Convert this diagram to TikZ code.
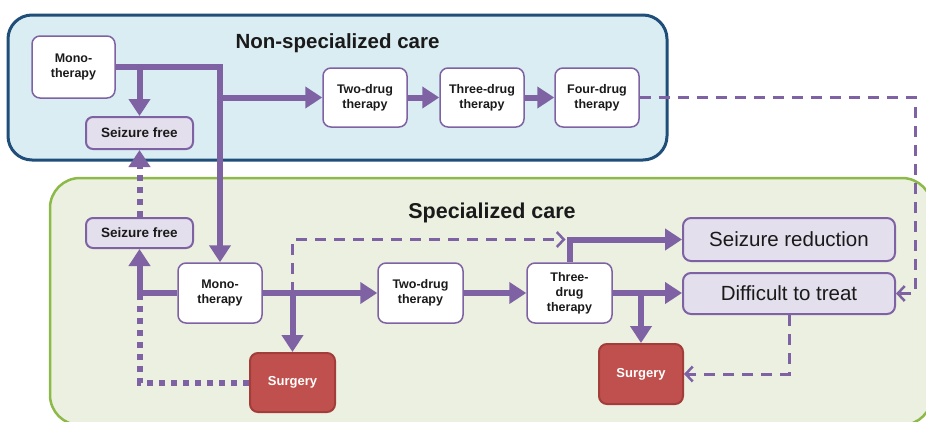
\documentclass[tikz,border=0pt]{standalone}
\usepackage{fontspec}
\setmainfont{Liberation Sans}
\usetikzlibrary{arrows.meta}
\definecolor{pur}{HTML}{7F62A4}
\definecolor{lav}{HTML}{E4DFEC}
\definecolor{bfill}{HTML}{DAEDF3}
\definecolor{bdraw}{HTML}{1F4E79}
\definecolor{gfill}{HTML}{EBF0E0}
\definecolor{gdraw}{HTML}{8DB948}
\definecolor{sred}{HTML}{C0504D}
\definecolor{sredd}{HTML}{A33D3A}
\definecolor{txt}{HTML}{1A1A1A}
\tikzset{
  wbox/.style={draw=pur, fill=white, line width=1.5pt, rounded corners=8pt, align=center,
    inner sep=0pt, text=txt, font=\fontsize{12.5}{15}\selectfont\bfseries},
  lbox/.style={draw=pur, fill=lav, line width=2pt, rounded corners=7pt, align=center,
    inner sep=0pt, text=txt, font=\fontsize{13.5}{16}\selectfont\bfseries},
  bigbox/.style={draw=pur, fill=lav, line width=2pt, rounded corners=8pt, align=center,
    inner sep=0pt, text=txt, font=\fontsize{20.5}{24}\selectfont},
  sbox/.style={draw=sredd, fill=sred, line width=2pt, rounded corners=8pt, align=center,
    inner sep=0pt, text=white, font=\fontsize{13}{15}\selectfont\bfseries},
  title/.style={anchor=base, text=txt, font=\fontsize{20.5}{24}\selectfont\bfseries},
  arr/.style={draw=pur, line width=6pt, -{Triangle[width=21pt,length=17pt]}},
  pline/.style={draw=pur, line width=6pt},
  dotl/.style={draw=pur, line width=6pt, dash pattern=on 6pt off 6pt},
  dotarr/.style={dotl, -{Triangle[width=21pt,length=17pt]}},
  dsh/.style={draw=pur, line width=3pt, dash pattern=on 11pt off 8pt},
  dsharr/.style={dsh, -{Straight Barb[length=7pt,width=15pt,line width=2.5pt]}},
}
\begin{document}
\begin{tikzpicture}[x=1pt,y=-1pt]
\useasboundingbox (0,0) rectangle (926,421);
\fill[white] (0,0) rectangle (926,421);
\begin{scope}
\clip (0,0) rectangle (926,421);
\draw[fill=bfill, draw=bdraw, line width=3pt, rounded corners=24pt] (8,15) rectangle (667,160);
\draw[fill=gfill, draw=gdraw, line width=2.5pt, rounded corners=30pt] (50,178) rectangle (932,425);
\end{scope}

\node[title] (t1) at (337.5,48) {Non-specialized care};
\node[title, font=\fontsize{21.5}{24}\selectfont\bfseries] (t2) at (492,218) {Specialized care};

% top row
\node[wbox, minimum width=83pt, minimum height=62pt] (mono1) at (73.5,67) {Mono-\\therapy};
\node[lbox, minimum width=107pt, minimum height=32pt] (sf1) at (139.5,133) {Seizure free};
\node[wbox, minimum width=84pt, minimum height=59pt] (two1) at (365,97.5) {Two-drug\\therapy};
\node[wbox, minimum width=84pt, minimum height=59pt] (three1) at (482,97.5) {Three-drug\\therapy};
\node[wbox, minimum width=84pt, minimum height=59pt] (four1) at (597,97.5) {Four-drug\\therapy};

% bottom
\node[lbox, minimum width=107pt, minimum height=30pt] (sf2) at (139.5,233) {Seizure free};
\node[wbox, minimum width=84pt, minimum height=60pt] (mono2) at (220,293) {Mono-\\therapy};
\node[sbox, minimum width=85pt, minimum height=59pt] (surg1) at (292.5,382.5) {Surgery};
\node[wbox, minimum width=85pt, minimum height=60pt] (two2) at (420.5,293) {Two-drug\\therapy};
\node[wbox, minimum width=85pt, minimum height=60pt] (three2) at (569.5,293) {Three-\\drug\\therapy};
\node[sbox, minimum width=84pt, minimum height=60pt] (surg2) at (641,374) {Surgery};
\node[bigbox, minimum width=212pt, minimum height=43pt] (sr) at (789,239.5) {Seizure reduction};
\node[bigbox, minimum width=212pt, minimum height=41pt] (dt) at (789,293.5) {Difficult to treat};

\coordinate (rc) at (915,0);

% top connectors
\draw[arr] (mono1.east) -| (mono2.north);
\draw[arr] (mono1.east -| sf1.north) -- (sf1.north);
\draw[arr] (two1.west -| mono2.north) -- (two1.west);
\draw[arr] (two1.east) -- (three1.west);
\draw[arr] (three1.east) -- (four1.west);
\draw[dsharr] (four1.east) -- (four1.east -| rc) |- (dt.east);

% bottom connectors
\draw[dotarr] (sf2.north) -- (sf1.south);
\draw[dotl] (surg1.west) -| (sf2.south |- mono2.west);
\draw[arr] (mono2.west) -| (sf2.south);
\draw[dsharr, shorten >=4pt] (mono2.east -| surg1.north) -- (surg1.north |- sr.west) -- (three2.north |- sr.west);
\draw[arr] (mono2.east -| surg1.north) -- (surg1.north);
\draw[arr] (mono2.east) -- (two2.west);
\draw[arr] (two2.east) -- (three2.west);
\draw[arr] (three2.north) |- (sr.west);
\draw[arr] (three2.east) -- (three2.east -| dt.west);
\draw[arr] (three2.east -| surg2.north) -- (surg2.north);
\draw[dsharr] (dt.south) |- (surg2.east);
\end{tikzpicture}
\end{document}
